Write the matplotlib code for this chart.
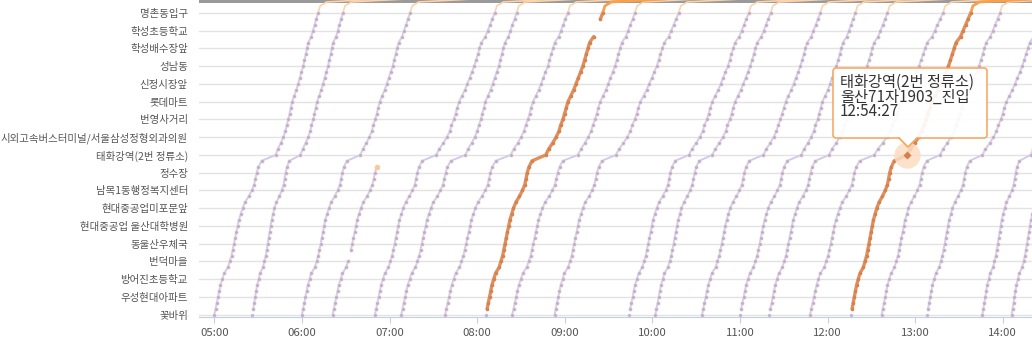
import matplotlib
matplotlib.use("Agg")
import matplotlib.pyplot as plt
import numpy as np
from matplotlib.patches import FancyBboxPatch, Polygon
from matplotlib.transforms import IdentityTransform

plt.rcParams["font.family"] = ["Noto Sans CJK KR", "DejaVu Sans"]

# stops, bottom (꽃바위) to top (명촌동입구)
stations = ["꽃바위", "우성현대아파트", "방어진초등학교", "번덕마을", "동울산우체국",
            "현대중공업 울산대학병원", "현대중공업미포문앞", "남목1동행정복지센터", "정수장",
            "태화강역(2번 정류소)", "시외고속버스터미널/서울삼성정형외과의원", "번영사거리",
            "롯데마트", "신정시장앞", "성남동", "학성배수장앞", "학성초등학교", "명촌동입구"]

# share of the run done at each sub-stop (3 per labelled stop)
lower_share = [0.00, 0.02, 0.04, 0.06, 0.08, 0.10, 0.13, 0.16, 0.22, 0.25,
               0.28, 0.30, 0.32, 0.34, 0.36, 0.38, 0.40, 0.43, 0.46, 0.50,
               0.56, 0.61, 0.65, 0.67, 0.69, 0.72, 0.77, 1.00]
upper_share = [0.00, 0.05, 0.12, 0.18, 0.23, 0.26, 0.30, 0.33, 0.36, 0.39,
               0.44, 0.49, 0.53, 0.57, 0.61, 0.65, 0.68, 0.71, 0.74, 0.77,
               0.84, 0.88, 0.92, 0.96, 1.00]

# each run: leaves 꽃바위, reaches 태화강역, reaches 명촌동입구
dep_times = ["05:00", "05:26", "06:00", "06:21", "06:50", "07:08", "07:38", "08:06",
             "08:24", "08:53", "09:44", "10:02", "10:34", "11:00", "11:20", "11:48",
             "12:16", "12:37", "13:08", "13:46", "14:06"]
mid_times = ["05:42", "05:59", "06:40", "07:03", "07:32", "07:52", "08:23", "08:47",
             "09:09", "09:35", "10:25", "10:41", "11:16", "11:42", "12:01", "12:32",
             "12:54:27", "13:17", "13:46", "14:19", "14:39"]
arr_times = ["06:11", "06:28", "07:14", "07:45", "08:12", "08:27", "09:02", "09:26",
             "09:48", "10:18", "11:06", "11:21", "11:55", "12:19", "12:41", "13:19",
             "13:38", "13:58", "14:28", "14:59", "15:19"]
late_start = [0, 1, 0, 0, 0, 0, 0, 1, 0, 0, 1, 0, 0, 1, 1, 0, 1, 0, 1, 0, 0]
selected = [7, 16]
cut_after = {3: 25}
gaps = {3: [10], 7: [48, 49]}
tail_levels = [17, 17.4, 17.62, 18]
tail_minutes = [0, 1.5, 6, 90]

tip_lines = ["태화강역(2번 정류소)", "울산71자1903_진입", "12:54:27"]
tip_stop = 9
tip_time = "12:54:27"


def to_hours(s):
    parts = [int(p) for p in s.split(":")] + [0, 0]
    return parts[0] + parts[1] / 60 + parts[2] / 3600


levels = np.arange(52) / 3
lo = np.array(lower_share)
up = np.array(upper_share)

fig = plt.figure(figsize=(10.32, 3.48), dpi=100)
ax = fig.add_axes([199 / 1032, 31 / 348, 833 / 1032, 317 / 348])

for i in range(len(dep_times)):
    t0, t9, t17 = to_hours(dep_times[i]), to_hours(mid_times[i]), to_hours(arr_times[i])
    t = np.concatenate([t0 + lo * (t9 - t0), t9 + up[1:] * (t17 - t9)])
    y = levels.copy()
    for k in gaps.get(i, []):
        t[k] = np.nan
    if late_start[i]:
        ax.plot(t[0], y[0], "o", ms=2.4, color="#bdb6e0", mec="none", zorder=3)
        t[0] = np.nan
    last = cut_after.get(i, 51)
    t, y = t[:last + 1], y[:last + 1]
    tt = [t17 + m / 60 for m in tail_minutes]
    if i in selected:
        ax.plot(t, y, color="#e0905f", lw=2.4, zorder=5, solid_capstyle="round")
        ax.plot(t, y, "o", ms=2.6, color="#d4834f", mec="none", zorder=6)
        ax.plot(tt, tail_levels, color="#f7a14c", lw=2.0, zorder=5)
    else:
        ax.plot(t, y, color="#d0cbec", lw=1.4, zorder=2)
        ax.plot(t, y, "o", ms=3.4, color="#fcd9bc", alpha=0.6, mec="none", zorder=2.5)
        ax.plot(t, y, "o", ms=2.2, color="#b8b0dc", mec="none", zorder=3)
        if last < 51:
            ax.plot(t[-1], y[-1], "o", ms=4, color="#fcc79a", mec="none", zorder=3)
        else:
            ax.plot(tt, tail_levels, color="#fbd3ad", lw=1.2, zorder=2)

# hovered point
hx = to_hours(tip_time)
ax.plot(hx, tip_stop, "o", ms=19, color="#fcdcc2", alpha=0.85, mec="none", zorder=7)
ax.plot(hx, tip_stop, "D", ms=4, color="#d97f48", mec="none", zorder=8)

ax.axhspan(17.56, 17.8, color="#9a9a9a", lw=0, zorder=1.5)

ax.set_xlim(4.825, 14.333)
ax.set_ylim(-0.13, 17.73)
ax.set_xticks(range(5, 15))
ax.set_xticklabels([f"{h:02d}:00" for h in range(5, 15)])
ax.set_yticks(range(len(stations)))
ax.set_yticklabels(stations)
ax.set_axisbelow(True)
ax.yaxis.grid(True, color="#e2e2e2", lw=1)
ax.xaxis.grid(False)
for side in ["left", "right", "top"]:
    ax.spines[side].set_visible(False)
ax.spines["bottom"].set_color("#c5cde0")
ax.tick_params(axis="y", length=0, pad=8, labelsize=7.5, labelcolor="#555555")
ax.tick_params(axis="x", length=4, color="#c5cde0", pad=4, labelsize=8.2,
               labelcolor="#555555")

# tooltip
px = IdentityTransform()
box = FancyBboxPatch((833, 210), 154, 70, boxstyle="round,pad=0,rounding_size=3",
                     fc="white", ec="#f5a45c", lw=1.2, alpha=0.92, transform=px)
fig.add_artist(box)
fig.add_artist(Polygon([(899, 211), (917, 211), (908, 201)], closed=True,
                       fc="white", ec="none", transform=px))
fig.add_artist(plt.Line2D([899, 908, 917], [210, 201, 210], color="#f5a45c",
                          lw=1.2, transform=px))
for j, line in enumerate(tip_lines):
    fig.text(840, 266 - 15 * j, line, transform=px, va="center", ha="left",
             fontsize=11, color="#333333")

fig.savefig("out.png", dpi=100)
